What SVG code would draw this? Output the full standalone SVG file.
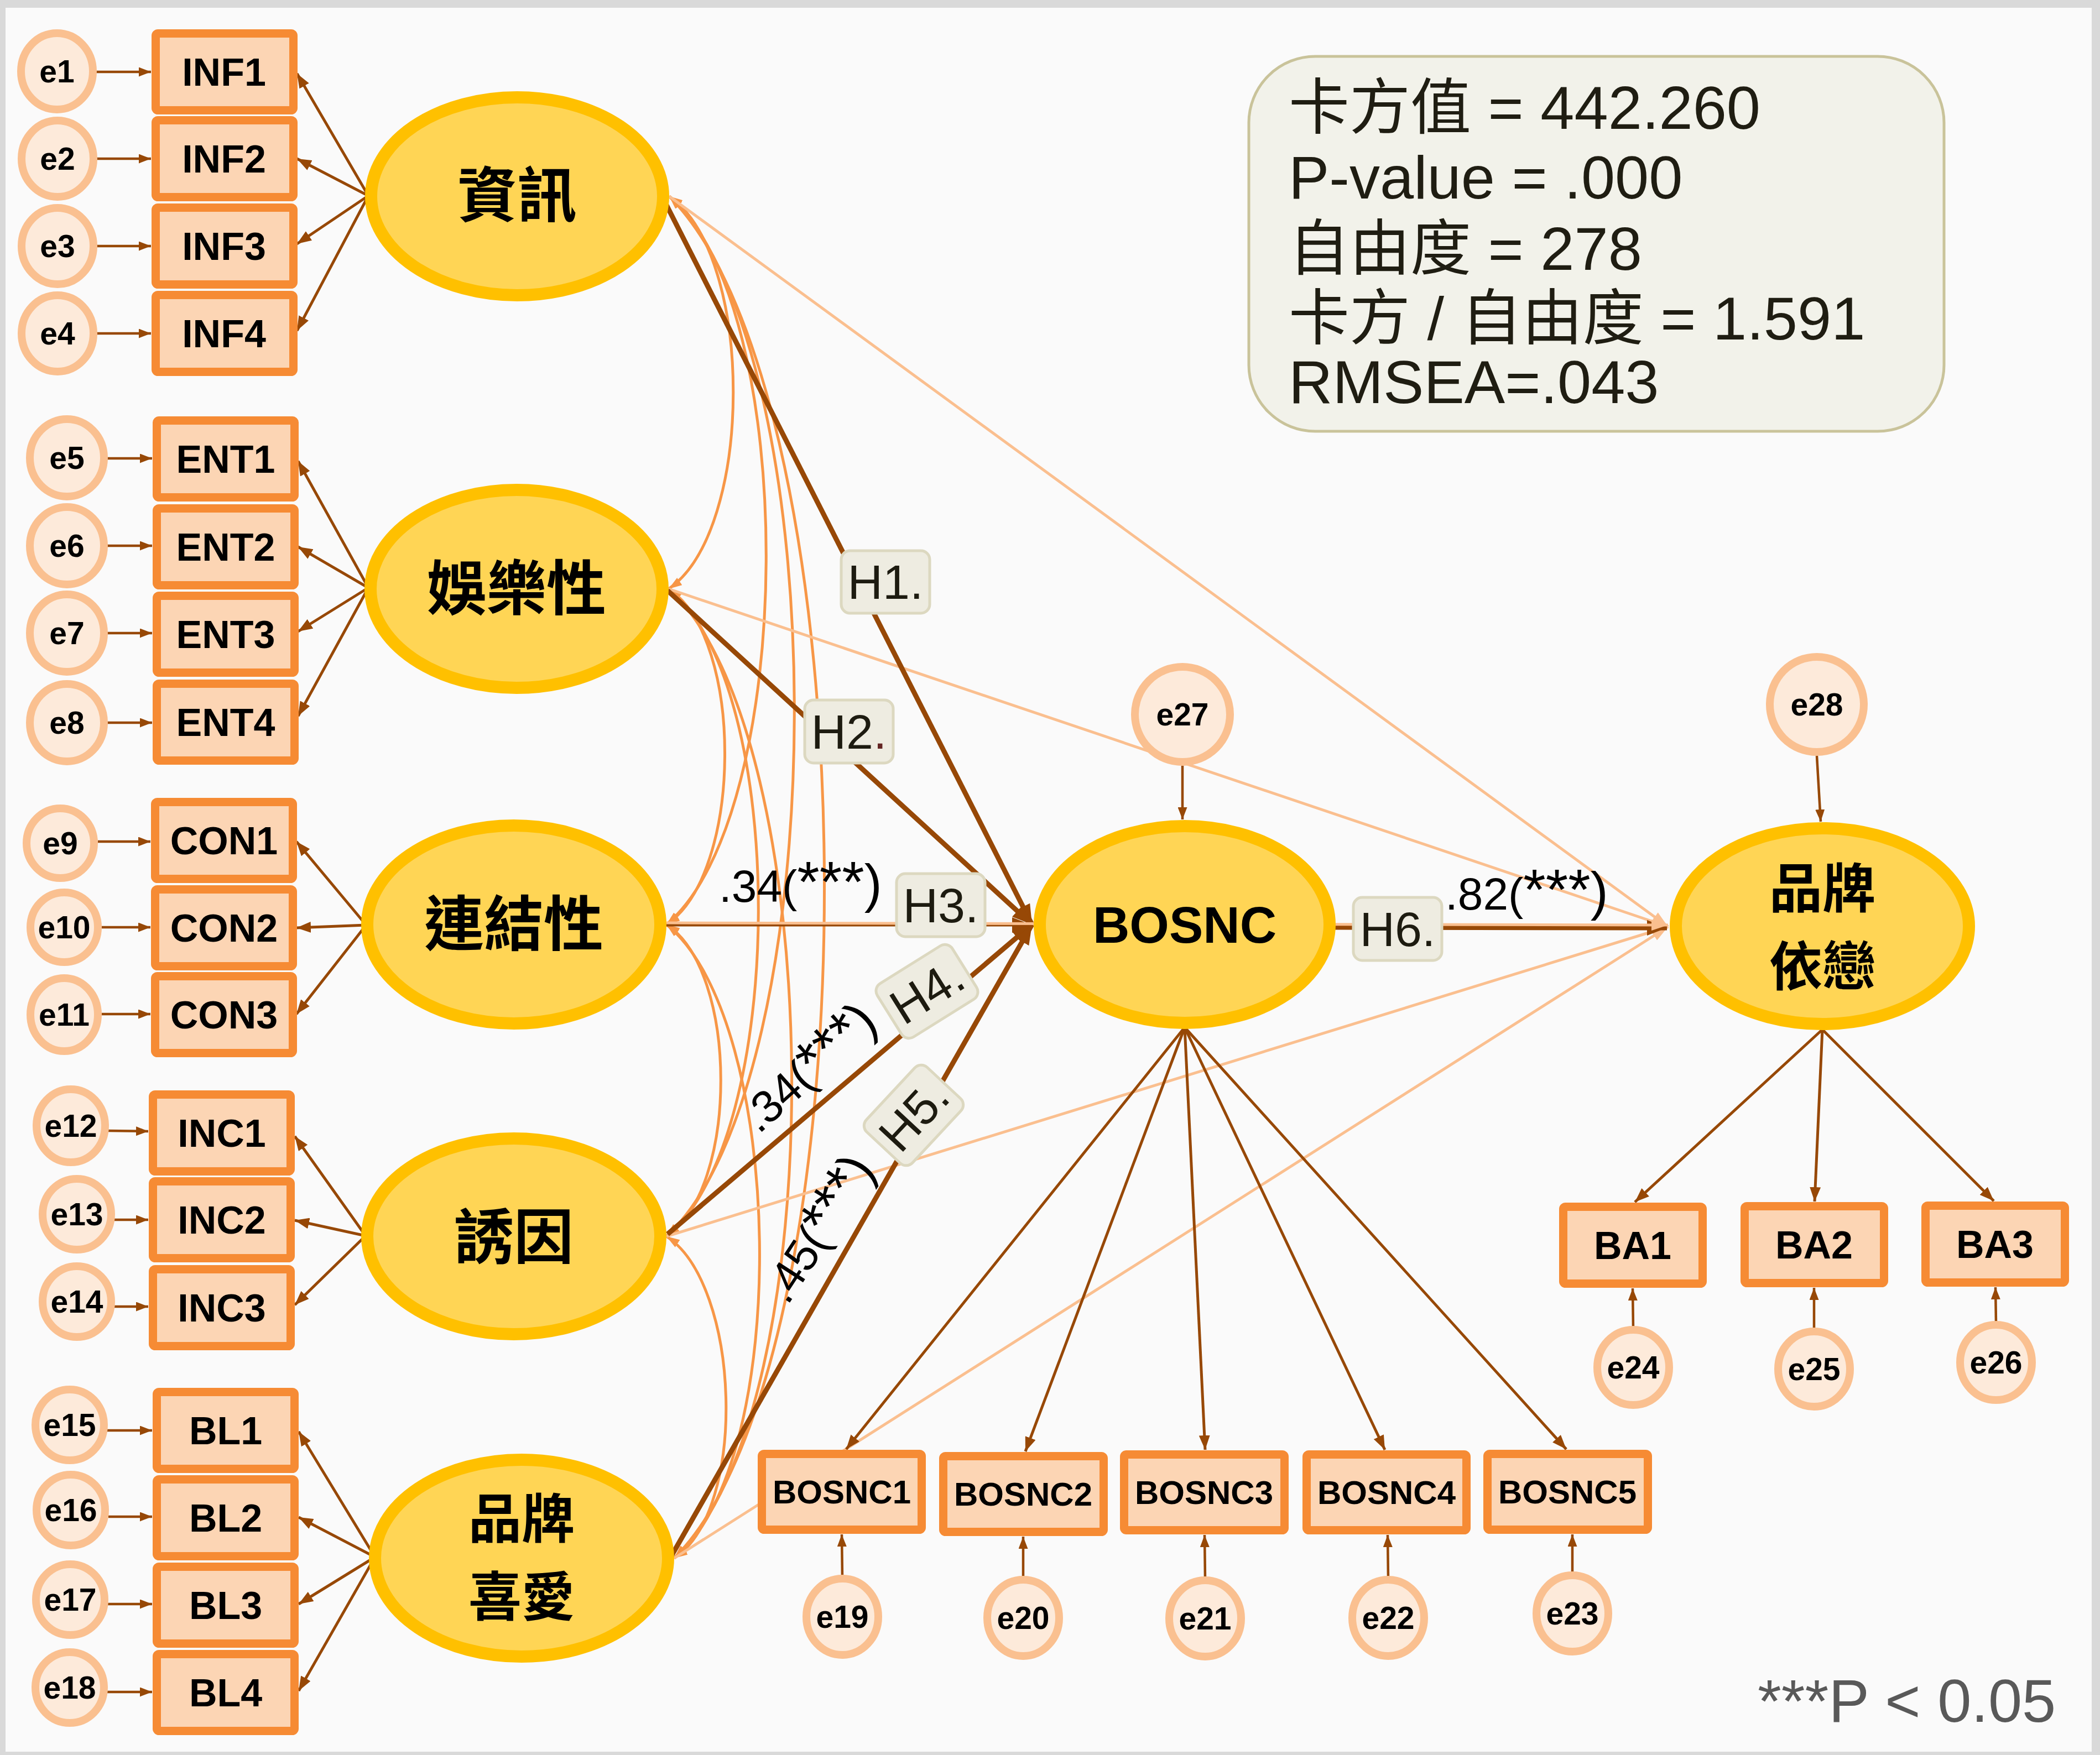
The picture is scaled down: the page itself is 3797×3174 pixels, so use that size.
<svg xmlns="http://www.w3.org/2000/svg" width="3797" height="3174" viewBox="0 0 3797 3174">
<defs>
<marker id="ah" viewBox="0 0 10 10" refX="10" refY="5" markerWidth="36" markerHeight="28" preserveAspectRatio="none" orient="auto" markerUnits="userSpaceOnUse"><path d="M0,0 L10,5 L0,10 z" fill="#974806"/></marker>
<marker id="al" viewBox="0 0 10 10" refX="10" refY="5" markerWidth="26" markerHeight="20" preserveAspectRatio="none" orient="auto" markerUnits="userSpaceOnUse"><path d="M0,0 L10,5 L0,10 z" fill="#974806"/></marker>
<marker id="ae" viewBox="0 0 10 10" refX="10" refY="5" markerWidth="22" markerHeight="17" preserveAspectRatio="none" orient="auto" markerUnits="userSpaceOnUse"><path d="M0,0 L10,5 L0,10 z" fill="#974806"/></marker>
<marker id="ac" viewBox="0 0 10 10" refX="10" refY="5" markerWidth="24" markerHeight="16" preserveAspectRatio="none" orient="auto-start-reverse" markerUnits="userSpaceOnUse"><path d="M0,0 L10,5 L0,10 z" fill="#f79646"/></marker>
<marker id="alt" viewBox="0 0 10 10" refX="10" refY="5" markerWidth="30" markerHeight="20" preserveAspectRatio="none" orient="auto" markerUnits="userSpaceOnUse"><path d="M0,0 L10,5 L0,10 z" fill="#fabf8f"/></marker>
</defs>
<style>
.e ellipse{fill:#fdeada;stroke:#fac090;stroke-width:14}
.box rect{fill:#fcd5b4;stroke:#f68b34;stroke-width:15}
.lat ellipse{fill:#ffd555;stroke:#ffc000;stroke-width:22}
.et{font-family:"Liberation Sans",Arial,sans-serif;font-weight:bold;font-size:57px;text-anchor:middle;fill:#000}
.bt{font-family:"Liberation Sans",Arial,sans-serif;font-weight:bold;font-size:70px;text-anchor:middle;fill:#000}
.bt2{font-family:"Liberation Sans",Arial,sans-serif;font-weight:bold;font-size:60px;text-anchor:middle;fill:#000}
.ct{font-family:"Noto Sans CJK TC",sans-serif;font-weight:bold;font-size:108px;text-anchor:middle;fill:#000}
.ct2{font-family:"Noto Sans CJK TC",sans-serif;font-weight:bold;font-size:96px;text-anchor:middle;fill:#000}
.ld{stroke:#974806;stroke-width:5;fill:none;marker-end:url(#al)}
.ea{stroke:#974806;stroke-width:4.5;fill:none;marker-end:url(#ae)}
.hp{stroke:#974806;stroke-width:9;fill:none;marker-end:url(#ah)}
.hp3{stroke:#974806;stroke-width:5;fill:none;marker-end:url(#ah)}
.cv{stroke:#f79646;stroke-width:5;fill:none;marker-start:url(#ac);marker-end:url(#ac)}
.lt{stroke:#fabf8f;stroke-width:5;fill:none;marker-end:url(#alt)}
.hb rect{fill:#eeece1;stroke:#dcd8c0;stroke-width:5}
.ht{font-family:"Liberation Sans",Arial,sans-serif;font-size:88px;text-anchor:middle;fill:#1d1b10}
.nt{font-family:"Liberation Sans",Arial,sans-serif;font-size:82px;fill:#000}
.nt .a{font-size:104px}
.nt .p{font-size:96px}
.st{font-family:"Liberation Sans","Noto Sans CJK TC",sans-serif;font-size:110px;fill:#1f1d12}
</style>
<rect x="0" y="0" width="3797" height="3174" fill="#d9d9d9"/>
<rect x="10" y="14" width="3772" height="3154" fill="#fafafa"/>

<g id="connectors">
<path class="cv" d="M1210,355 C1365,462 1364,959 1209,1065"/>
<path class="cv" d="M1210,355 C1447,553 1442,1474 1205,1672"/>
<path class="cv" d="M1210,355 C1515,637 1510,1954 1205,2236"/>
<path class="cv" d="M1210,355 C1578,724 1587,2449 1219,2818"/>
<path class="cv" d="M1209,1065 C1347,1156 1343,1581 1205,1672"/>
<path class="cv" d="M1209,1065 C1428,1241 1424,2060 1205,2236"/>
<path class="cv" d="M1209,1065 C1499,1328 1509,2555 1219,2818"/>
<path class="cv" d="M1205,1672 C1336,1757 1336,2151 1205,2236"/>
<path class="cv" d="M1205,1672 C1420,1844 1434,2646 1219,2818"/>
<path class="cv" d="M1205,2236 C1339,2323 1353,2731 1219,2818"/>
<line class="lt" x1="1210" y1="355" x2="3016" y2="1676"/>
<line class="lt" x1="1209" y1="1065" x2="3016" y2="1676"/>
<line class="lt" x1="1219" y1="2818" x2="3016" y2="1676"/>
<line class="lt" x1="1205" y1="2236" x2="3016" y2="1676"/>
<line class="hp" x1="1197" y1="355" x2="1866" y2="1672"/>
<line class="hp" x1="1207" y1="1068" x2="1866" y2="1672"/>
<line class="hp3" x1="1205" y1="1673" x2="1866" y2="1673"/>
<line class="hp" x1="1207" y1="2232" x2="1866" y2="1672"/>
<line class="hp" x1="1214" y1="2814" x2="1866" y2="1672"/>
<line class="hp" x1="2414" y1="1677" x2="3014" y2="1678"/>
<line class="lt" x1="1205" y1="1669" x2="3016" y2="1673"/>
<line class="ld" x1="666" y1="354" x2="537" y2="133"/>
<line class="ld" x1="666" y1="354" x2="537" y2="287"/>
<line class="ld" x1="666" y1="354" x2="537" y2="441"/>
<line class="ld" x1="666" y1="354" x2="537" y2="598"/>
<line class="ld" x1="666" y1="1063" x2="539" y2="834"/>
<line class="ld" x1="666" y1="1063" x2="539" y2="989"/>
<line class="ld" x1="666" y1="1063" x2="539" y2="1142"/>
<line class="ld" x1="666" y1="1063" x2="539" y2="1295"/>
<line class="ld" x1="662" y1="1673" x2="536" y2="1522"/>
<line class="ld" x1="662" y1="1673" x2="536" y2="1678"/>
<line class="ld" x1="662" y1="1673" x2="536" y2="1834"/>
<line class="ld" x1="661" y1="2235" x2="533" y2="2055"/>
<line class="ld" x1="661" y1="2235" x2="533" y2="2207"/>
<line class="ld" x1="661" y1="2235" x2="533" y2="2360"/>
<line class="ld" x1="678" y1="2816" x2="540" y2="2589"/>
<line class="ld" x1="678" y1="2816" x2="540" y2="2744"/>
<line class="ld" x1="678" y1="2816" x2="540" y2="2901"/>
<line class="ld" x1="678" y1="2816" x2="540" y2="3058"/>
<line class="ld" x1="2142" y1="1858" x2="1530" y2="2621"/>
<line class="ld" x1="2142" y1="1858" x2="1854" y2="2625"/>
<line class="ld" x1="2142" y1="1858" x2="2179" y2="2622"/>
<line class="ld" x1="2142" y1="1858" x2="2504" y2="2622"/>
<line class="ld" x1="2142" y1="1858" x2="2832" y2="2621"/>
<line class="ld" x1="3295" y1="1862" x2="2956" y2="2174"/>
<line class="ld" x1="3295" y1="1862" x2="3281" y2="2173"/>
<line class="ld" x1="3295" y1="1862" x2="3605" y2="2172"/>
<line class="ea" x1="171" y1="130" x2="273" y2="130"/>
<line class="ea" x1="172" y1="287" x2="273" y2="287"/>
<line class="ea" x1="172" y1="445" x2="273" y2="445"/>
<line class="ea" x1="172" y1="603" x2="273" y2="603"/>
<line class="ea" x1="189" y1="829" x2="275" y2="829"/>
<line class="ea" x1="189" y1="987" x2="275" y2="987"/>
<line class="ea" x1="189" y1="1145" x2="275" y2="1145"/>
<line class="ea" x1="189" y1="1307" x2="275" y2="1307"/>
<line class="ea" x1="177" y1="1522" x2="272" y2="1522"/>
<line class="ea" x1="184" y1="1677" x2="272" y2="1677"/>
<line class="ea" x1="184" y1="1834" x2="272" y2="1834"/>
<line class="ea" x1="196" y1="2045" x2="268" y2="2046"/>
<line class="ea" x1="207" y1="2206" x2="268" y2="2206"/>
<line class="ea" x1="207" y1="2363" x2="268" y2="2363"/>
<line class="ea" x1="194" y1="2587" x2="275" y2="2587"/>
<line class="ea" x1="196" y1="2743" x2="275" y2="2743"/>
<line class="ea" x1="195" y1="2901" x2="275" y2="2901"/>
<line class="ea" x1="194" y1="3060" x2="275" y2="3060"/>
<line class="ea" x1="1523" y1="2852" x2="1522" y2="2775"/>
<line class="ea" x1="1850" y1="2854" x2="1850" y2="2779"/>
<line class="ea" x1="2179" y1="2855" x2="2178" y2="2776"/>
<line class="ea" x1="2510" y1="2854" x2="2509" y2="2776"/>
<line class="ea" x1="2843" y1="2846" x2="2843" y2="2775"/>
<line class="ea" x1="2953" y1="2402" x2="2952" y2="2330"/>
<line class="ea" x1="3280" y1="2405" x2="3280" y2="2329"/>
<line class="ea" x1="3609" y1="2393" x2="3608" y2="2328"/>
<line class="ea" x1="2138" y1="1385" x2="2138" y2="1482"/>
<line class="ea" x1="3285" y1="1367" x2="3292" y2="1486"/>
</g>

<g id="n-INF1" class="box"><rect x="281.5" y="60.5" width="249" height="139" rx="4"/><text class="bt" x="405" y="155">INF1</text></g>
<g id="n-INF2" class="box"><rect x="281.5" y="217.5" width="249" height="139" rx="4"/><text class="bt" x="405" y="312">INF2</text></g>
<g id="n-INF3" class="box"><rect x="281.5" y="375.5" width="249" height="139" rx="4"/><text class="bt" x="405" y="470">INF3</text></g>
<g id="n-INF4" class="box"><rect x="281.5" y="533.5" width="249" height="139" rx="4"/><text class="bt" x="405" y="628">INF4</text></g>
<g id="n-ENT1" class="box"><rect x="283.5" y="760.5" width="249" height="139" rx="4"/><text class="bt" x="408" y="855">ENT1</text></g>
<g id="n-ENT2" class="box"><rect x="283.5" y="919.5" width="249" height="139" rx="4"/><text class="bt" x="408" y="1014">ENT2</text></g>
<g id="n-ENT3" class="box"><rect x="283.5" y="1077.5" width="249" height="139" rx="4"/><text class="bt" x="408" y="1172">ENT3</text></g>
<g id="n-ENT4" class="box"><rect x="283.5" y="1236.5" width="249" height="139" rx="4"/><text class="bt" x="408" y="1331">ENT4</text></g>
<g id="n-CON1" class="box"><rect x="280.5" y="1450.5" width="249" height="139" rx="4"/><text class="bt" x="405" y="1545">CON1</text></g>
<g id="n-CON2" class="box"><rect x="280.5" y="1608.5" width="249" height="139" rx="4"/><text class="bt" x="405" y="1703">CON2</text></g>
<g id="n-CON3" class="box"><rect x="280.5" y="1765.5" width="249" height="139" rx="4"/><text class="bt" x="405" y="1860">CON3</text></g>
<g id="n-INC1" class="box"><rect x="276.5" y="1979.5" width="249" height="139" rx="4"/><text class="bt" x="401" y="2074">INC1</text></g>
<g id="n-INC2" class="box"><rect x="276.5" y="2136.5" width="249" height="139" rx="4"/><text class="bt" x="401" y="2231">INC2</text></g>
<g id="n-INC3" class="box"><rect x="276.5" y="2295.5" width="249" height="139" rx="4"/><text class="bt" x="401" y="2390">INC3</text></g>
<g id="n-BL1" class="box"><rect x="283.5" y="2517.5" width="249" height="139" rx="4"/><text class="bt" x="408" y="2612">BL1</text></g>
<g id="n-BL2" class="box"><rect x="283.5" y="2675.5" width="249" height="139" rx="4"/><text class="bt" x="408" y="2770">BL2</text></g>
<g id="n-BL3" class="box"><rect x="283.5" y="2833.5" width="249" height="139" rx="4"/><text class="bt" x="408" y="2928">BL3</text></g>
<g id="n-BL4" class="box"><rect x="283.5" y="2991.5" width="249" height="139" rx="4"/><text class="bt" x="408" y="3086">BL4</text></g>

<g id="n-BOSNC1" class="box"><rect x="1377.5" y="2629.5" width="289" height="137" rx="4"/><text class="bt2" x="1522" y="2719">BOSNC1</text></g>
<g id="n-BOSNC2" class="box"><rect x="1705.5" y="2633.5" width="290" height="137" rx="4"/><text class="bt2" x="1850" y="2723">BOSNC2</text></g>
<g id="n-BOSNC3" class="box"><rect x="2032.5" y="2630.5" width="290" height="137" rx="4"/><text class="bt2" x="2177" y="2720">BOSNC3</text></g>
<g id="n-BOSNC4" class="box"><rect x="2362.5" y="2630.5" width="289" height="137" rx="4"/><text class="bt2" x="2507" y="2720">BOSNC4</text></g>
<g id="n-BOSNC5" class="box"><rect x="2689.5" y="2629.5" width="290" height="137" rx="4"/><text class="bt2" x="2834" y="2719">BOSNC5</text></g>

<g id="n-BA1" class="box"><rect x="2826.5" y="2182.5" width="252" height="139" rx="4"/><text class="bt" x="2952" y="2277">BA1</text></g>
<g id="n-BA2" class="box"><rect x="3154.5" y="2181.5" width="252" height="139" rx="4"/><text class="bt" x="3280" y="2276">BA2</text></g>
<g id="n-BA3" class="box"><rect x="3481.5" y="2180.5" width="252" height="139" rx="4"/><text class="bt" x="3607" y="2275">BA3</text></g>

<g id="n-e1" class="e"><ellipse cx="103" cy="129" rx="65" ry="69"/><text class="et" x="103" y="149">e1</text></g>
<g id="n-e2" class="e"><ellipse cx="104" cy="287" rx="65" ry="69"/><text class="et" x="104" y="307">e2</text></g>
<g id="n-e3" class="e"><ellipse cx="104" cy="445" rx="65" ry="69"/><text class="et" x="104" y="465">e3</text></g>
<g id="n-e4" class="e"><ellipse cx="104" cy="603" rx="65" ry="69"/><text class="et" x="104" y="623">e4</text></g>
<g id="n-e5" class="e"><ellipse cx="121" cy="828" rx="67" ry="70"/><text class="et" x="121" y="848">e5</text></g>
<g id="n-e6" class="e"><ellipse cx="121" cy="987" rx="67" ry="70"/><text class="et" x="121" y="1007">e6</text></g>
<g id="n-e7" class="e"><ellipse cx="121" cy="1145" rx="67" ry="70"/><text class="et" x="121" y="1165">e7</text></g>
<g id="n-e8" class="e"><ellipse cx="121" cy="1307" rx="67" ry="70"/><text class="et" x="121" y="1327">e8</text></g>
<g id="n-e9" class="e"><ellipse cx="109" cy="1525" rx="61" ry="63"/><text class="et" x="109" y="1545">e9</text></g>
<g id="n-e10" class="e"><ellipse cx="116" cy="1677" rx="61" ry="63"/><text class="et" x="116" y="1697">e10</text></g>
<g id="n-e11" class="e"><ellipse cx="116" cy="1835" rx="61" ry="66"/><text class="et" x="116" y="1855">e11</text></g>
<g id="n-e12" class="e"><ellipse cx="128" cy="2036" rx="62" ry="66"/><text class="et" x="128" y="2056">e12</text></g>
<g id="n-e13" class="e"><ellipse cx="139" cy="2196" rx="62" ry="64"/><text class="et" x="139" y="2216">e13</text></g>
<g id="n-e14" class="e"><ellipse cx="139" cy="2354" rx="62" ry="64"/><text class="et" x="139" y="2374">e14</text></g>
<g id="n-e15" class="e"><ellipse cx="126" cy="2577" rx="62" ry="64"/><text class="et" x="126" y="2597">e15</text></g>
<g id="n-e16" class="e"><ellipse cx="128" cy="2731" rx="62" ry="64"/><text class="et" x="128" y="2751">e16</text></g>
<g id="n-e17" class="e"><ellipse cx="127" cy="2893" rx="62" ry="64"/><text class="et" x="127" y="2913">e17</text></g>
<g id="n-e18" class="e"><ellipse cx="126" cy="3052" rx="62" ry="64"/><text class="et" x="126" y="3072">e18</text></g>
<g id="n-e19" class="e"><ellipse cx="1523" cy="2924" rx="65" ry="69"/><text class="et" x="1523" y="2944">e19</text></g>
<g id="n-e20" class="e"><ellipse cx="1850" cy="2926" rx="65" ry="69"/><text class="et" x="1850" y="2946">e20</text></g>
<g id="n-e21" class="e"><ellipse cx="2179" cy="2927" rx="65" ry="69"/><text class="et" x="2179" y="2947">e21</text></g>
<g id="n-e22" class="e"><ellipse cx="2510" cy="2926" rx="65" ry="69"/><text class="et" x="2510" y="2946">e22</text></g>
<g id="n-e23" class="e"><ellipse cx="2843" cy="2918" rx="65" ry="69"/><text class="et" x="2843" y="2938">e23</text></g>
<g id="n-e24" class="e"><ellipse cx="2953" cy="2473" rx="65" ry="68"/><text class="et" x="2953" y="2493">e24</text></g>
<g id="n-e25" class="e"><ellipse cx="3280" cy="2476" rx="65" ry="68"/><text class="et" x="3280" y="2496">e25</text></g>
<g id="n-e26" class="e"><ellipse cx="3609" cy="2464" rx="65" ry="68"/><text class="et" x="3609" y="2484">e26</text></g>
<g id="n-e27" class="e"><ellipse cx="2138" cy="1292" rx="86" ry="86"/><text class="et" x="2138" y="1312">e27</text></g>
<g id="n-e28" class="e"><ellipse cx="3285" cy="1274" rx="85" ry="86"/><text class="et" x="3285" y="1294">e28</text></g>

<g id="n-info" class="lat"><ellipse cx="935" cy="355" rx="264" ry="179"/><text class="ct" x="935" y="392">資訊</text></g>
<g id="n-ent" class="lat"><ellipse cx="934" cy="1065" rx="264" ry="179"/><text class="ct" x="934" y="1103">娛樂性</text></g>
<g id="n-con" class="lat"><ellipse cx="929" cy="1672" rx="265" ry="179"/><text class="ct" x="929" y="1710">連結性</text></g>
<g id="n-inc" class="lat"><ellipse cx="929" cy="2236" rx="265" ry="177"/><text class="ct" x="929" y="2276">誘因</text></g>
<g id="n-bl" class="lat"><ellipse cx="943" cy="2818" rx="265" ry="178"/><text class="ct2" x="943" y="2781">品牌</text><text class="ct2" x="943" y="2922">喜愛</text></g>
<g id="n-bosnc" class="lat"><ellipse cx="2142" cy="1672" rx="262" ry="178"/><text x="2142" y="1705" style="font-family:'Liberation Sans',Arial,sans-serif;font-weight:bold;font-size:92px;text-anchor:middle">BOSNC</text></g>
<g id="n-ba" class="lat"><ellipse cx="3295" cy="1675" rx="265" ry="177"/><text class="ct2" x="3295" y="1641">品牌</text><text class="ct2" x="3295" y="1782">依戀</text></g>

<g id="labels">
<g class="hb"><rect x="1521" y="996" width="160" height="113" rx="16"/><text class="ht" x="1601" y="1083">H1.</text></g>
<g class="hb"><rect x="1455" y="1266" width="160" height="114" rx="16"/><text class="ht" x="1535" y="1354">H2<tspan fill="#632523">.</tspan></text></g>
<g class="hb"><rect x="1621" y="1580" width="160" height="114" rx="16"/><text class="ht" x="1701" y="1668">H3.</text></g>
<g class="hb" transform="rotate(-32 1676 1793)"><rect x="1596" y="1736" width="160" height="114" rx="16"/><text class="ht" x="1676" y="1824">H4.</text></g>
<g class="hb" transform="rotate(-47 1652 2017)"><rect x="1572" y="1960" width="160" height="114" rx="16"/><text class="ht" x="1652" y="2048">H5.</text></g>
<g class="hb"><rect x="2447" y="1623" width="160" height="114" rx="16"/><text class="ht" x="2527" y="1711">H6.</text></g>
<text class="nt" x="1300" y="1631">.34(<tspan class="a">***</tspan><tspan class="p">)</tspan></text>
<text class="nt" x="2613" y="1645">.82(<tspan class="a">***</tspan><tspan class="p">)</tspan></text>
<text class="nt" x="1372" y="2052" transform="rotate(-42 1372 2052)">.34(<tspan class="a">***</tspan><tspan class="p">)</tspan></text>
<text class="nt" x="1424" y="2362" transform="rotate(-57 1424 2362)">.45(<tspan class="a">***</tspan><tspan class="p">)</tspan></text>
</g>

<g id="fit">
<rect x="2258" y="102" width="1257" height="678" rx="120" fill="#f2f2ea" stroke="#c9c39a" stroke-width="5"/>
<text class="st" x="2330" y="233">卡方值 = 442.260</text>
<text class="st" x="2330" y="359">P-value = .000</text>
<text class="st" x="2330" y="488">自由度 = 278</text>
<text class="st" x="2330" y="614">卡方 / 自由度 = 1.591</text>
<text class="st" x="2330" y="729">RMSEA=.043</text>
</g>
<text x="3178" y="3114" style="font-family:'Liberation Sans',Arial,sans-serif;font-size:110px;fill:#595959">***P &lt; 0.05</text>
</svg>
